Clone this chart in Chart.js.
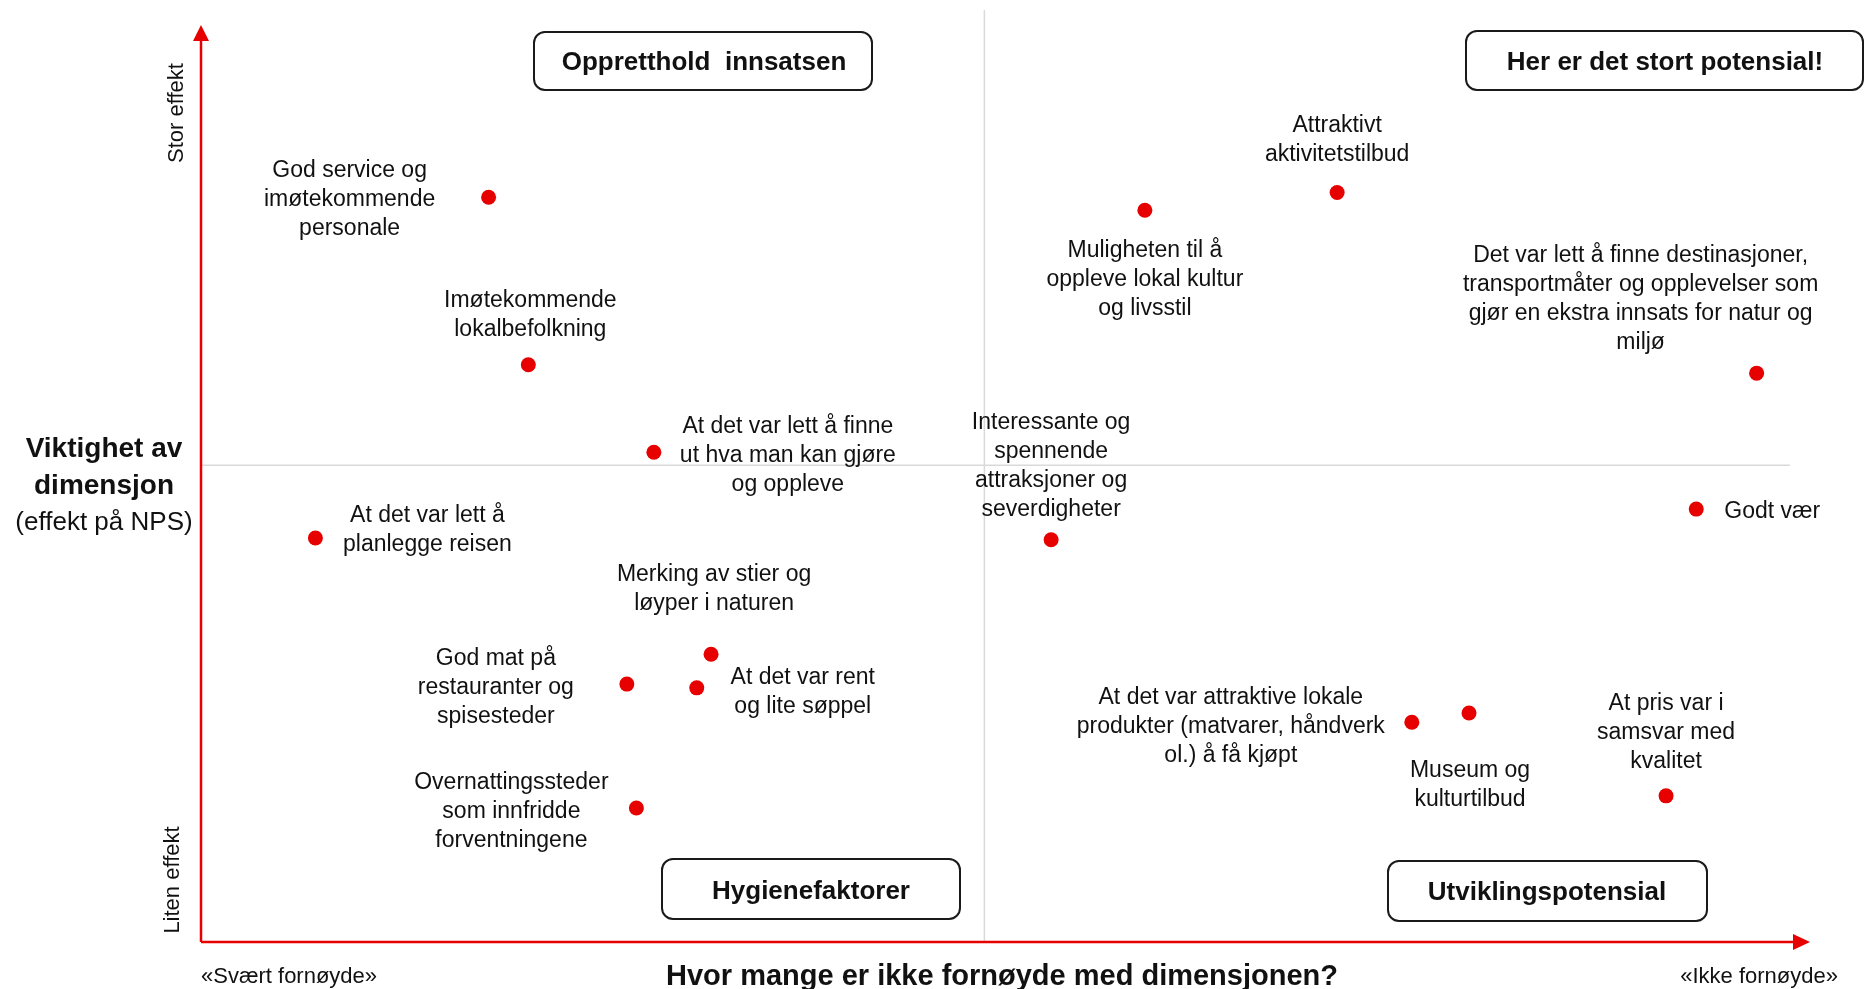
<!DOCTYPE html>
<html>
<head>
<meta charset="utf-8">
<script src="https://cdn.jsdelivr.net/npm/chart.js@4"></script>
<style>
  html, body { margin: 0; padding: 0; background: #fff; }
  #wrap { width: 1865px; height: 989px; }
</style>
</head>
<body>
<div id="wrap"><canvas id="canvas_matrix"></canvas></div>
<script>

// dimensions (one label per point, \n = line break)
var names = [
  "God service og\nimøtekommende\npersonale",
  "Imøtekommende\nlokalbefolkning",
  "At det var lett å finne\nut hva man kan gjøre\nog oppleve",
  "At det var lett å\nplanlegge reisen",
  "Merking av stier og\nløyper i naturen",
  "God mat på\nrestauranter og\nspisesteder",
  "At det var rent\nog lite søppel",
  "Overnattingssteder\nsom innfridde\nforventningene",
  "Muligheten til å\noppleve lokal kultur\nog livsstil",
  "Attraktivt\naktivitetstilbud",
  "Det var lett å finne destinasjoner,\ntransportmåter og opplevelser som\ngjør en ekstra innsats for natur og\nmiljø",
  "Interessante og\nspennende\nattraksjoner og\nseverdigheter",
  "Godt vær",
  "At det var attraktive lokale\nprodukter (matvarer, håndverk\nol.) å få kjøpt",
  "Museum og\nkulturtilbud",
  "At pris var i\nsamsvar med\nkvalitet"
];

// share not satisfied (x) and importance / effect on NPS (y), 0-100
var notSatisfied = [18.1, 20.6, 28.5, 7.2, 32.1, 26.8, 31.2, 27.4, 59.4, 71.5, 97.9, 53.5, 94.1, 76.2, 79.8, 92.2];
var importance   = [80.0, 62.0, 52.6, 43.4, 30.9, 27.7, 27.3, 14.4, 78.6, 80.5, 61.1, 43.2, 46.5, 23.6, 24.6, 15.7];

// quadrant split
var splitX = 49.3;
var splitY = 51.2;

var quadrants = ["Oppretthold  innsatsen", "Her er det stort potensial!", "Hygienefaktorer", "Utviklingspotensial"];

// where each label sits relative to its dot (px), align
var labelPos = [
  [-139, 0, 'center'], [2, -52, 'center'], [134, 1, 'center'], [112, -10, 'center'],
  [3, -67, 'center'], [-131, 2, 'center'], [106, 2, 'center'], [-125, 2, 'center'],
  [0, 67, 'center'], [0, -54, 'center'], [-116, -76, 'center'], [0, -76, 'center'],
  [28, 1, 'left'], [-181, 2, 'center'], [1, 70, 'center'], [0, -65, 'center']
];

var points = [];
for (var i = 0; i < names.length; i++) {
  points.push({ x: notSatisfied[i], y: importance[i] });
}

var red = '#e60000';
var ink = '#111111';
var font = '"Liberation Sans", Arial, sans-serif';
var nudge = 2; // glyph centre sits a bit low in the original

function drawLines(ctx, text, x, y, align, size, weight, lh) {
  var lines = text.split('\n');
  ctx.font = (weight || 'normal') + ' ' + size + 'px ' + font;
  ctx.textAlign = align;
  ctx.textBaseline = 'middle';
  var top = y + nudge - (lines.length - 1) * lh / 2;
  for (var k = 0; k < lines.length; k++) {
    ctx.fillText(lines[k], x, top + k * lh);
  }
}

function box(ctx, x1, y1, x2, y2, text, cx, cy) {
  ctx.beginPath();
  ctx.roundRect(x1, y1, x2 - x1, y2 - y1, 11);
  ctx.lineWidth = 2;
  ctx.strokeStyle = '#1a1a1a';
  ctx.stroke();
  ctx.fillStyle = ink;
  drawLines(ctx, text, cx, cy, 'center', 26, 'bold', 30);
}

// grid, axes and annotations behind the dots
var backdrop = {
  id: 'backdrop',
  beforeDatasetsDraw: function(chart) {
    var ctx = chart.ctx;
    var xs = chart.scales.x, ys = chart.scales.y, a = chart.chartArea;
    var px = xs.getPixelForValue(splitX);
    var py = ys.getPixelForValue(splitY);
    ctx.save();

    // quadrant lines
    ctx.strokeStyle = '#d9d9d9';
    ctx.lineWidth = 1.5;
    ctx.beginPath();
    ctx.moveTo(px, 10);
    ctx.lineTo(px, a.bottom);
    ctx.moveTo(a.left, py);
    ctx.lineTo(a.right, py);
    ctx.stroke();

    // red axis arrows
    ctx.strokeStyle = red;
    ctx.fillStyle = red;
    ctx.lineWidth = 2.5;
    ctx.beginPath();
    ctx.moveTo(a.left, a.bottom);
    ctx.lineTo(a.left, 36);
    ctx.moveTo(a.left, a.bottom);
    ctx.lineTo(1798, a.bottom);
    ctx.stroke();
    ctx.beginPath();
    ctx.moveTo(a.left, 25);
    ctx.lineTo(a.left - 8, 41);
    ctx.lineTo(a.left + 8, 41);
    ctx.closePath();
    ctx.fill();
    ctx.beginPath();
    ctx.moveTo(1810, a.bottom);
    ctx.lineTo(1793, a.bottom - 8);
    ctx.lineTo(1793, a.bottom + 8);
    ctx.closePath();
    ctx.fill();

    // axis texts
    ctx.fillStyle = ink;
    drawLines(ctx, 'Viktighet av\ndimensjon', 104, 466, 'center', 28, 'bold', 37);
    drawLines(ctx, '(effekt på NPS)', 104, 521, 'center', 26, 'normal', 30);
    drawLines(ctx, '«Svært fornøyde»', 201, 975, 'left', 22, 'normal', 26);
    drawLines(ctx, '«Ikke fornøyde»', 1838, 975, 'right', 22, 'normal', 26);
    drawLines(ctx, 'Hvor mange er ikke fornøyde med dimensjonen?', 1002, 975, 'center', 29, 'bold', 32);

    ctx.save();
    ctx.translate(177, 113);
    ctx.rotate(-Math.PI / 2);
    drawLines(ctx, 'Stor effekt', 0, -2, 'center', 22, 'normal', 26);
    ctx.restore();
    ctx.save();
    ctx.translate(173, 880);
    ctx.rotate(-Math.PI / 2);
    drawLines(ctx, 'Liten effekt', 0, -2, 'center', 22, 'normal', 26);
    ctx.restore();

    // quadrant boxes
    box(ctx, 534, 32, 872, 90, quadrants[0], 704, 61);
    box(ctx, 1466, 31, 1863, 90, quadrants[1], 1665, 61);
    box(ctx, 662, 859, 960, 919, quadrants[2], 811, 890);
    box(ctx, 1388, 861, 1707, 921, quadrants[3], 1547, 891);

    // point labels
    var meta = chart.getDatasetMeta(0);
    for (var i = 0; i < names.length; i++) {
      var el = meta.data[i];
      var p = labelPos[i];
      drawLines(ctx, names[i], el.x + p[0], el.y + p[1], p[2], 23, 'normal', 29);
    }
    ctx.restore();
  }
};

var ctxM = document.getElementById('canvas_matrix').getContext('2d');
var matrixChart = new Chart(ctxM, {
  type: 'scatter',
  data: {
    datasets: [{
      label: 'Dimensjoner',
      data: points,
      backgroundColor: red,
      borderColor: red,
      borderWidth: 0,
      pointRadius: 7.5,
      pointHoverRadius: 7.5
    }]
  },
  options: {
    responsive: true,
    maintainAspectRatio: false,
    animation: false,
    layout: {
      autoPadding: false,
      padding: { left: 201, right: 75, top: 11, bottom: 47 }
    },
    scales: {
      x: { type: 'linear', min: 0, max: 100, display: false },
      y: { type: 'linear', min: 0, max: 100, display: false }
    },
    plugins: {
      legend: { display: false },
      tooltip: { enabled: false }
    }
  },
  plugins: [backdrop]
});

</script>
</body>
</html>
